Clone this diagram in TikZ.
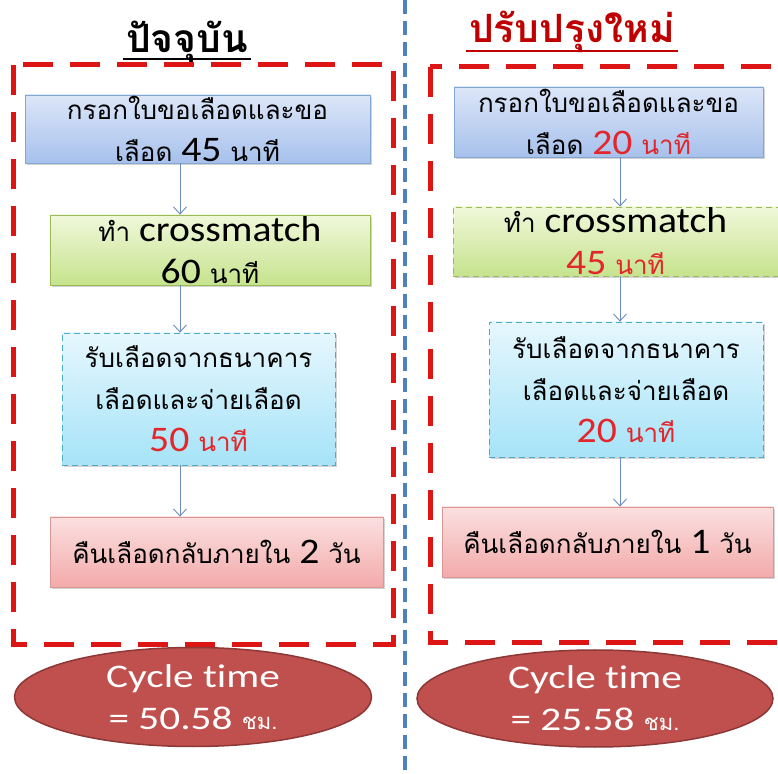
\documentclass[tikz,border=0pt]{standalone}
\usepackage{fontspec}
\setmainfont{Carlito}
\newfontfamily\thf[Script=Thai]{Loma}
\newfontfamily\latf[FakeStretch=1.1,Ligatures=NoCommon]{Carlito}
\newfontfamily\cycf[FakeStretch=1.25,Ligatures=NoCommon]{Carlito}
\usetikzlibrary{arrows.meta,shadows,shapes.geometric}
\definecolor{redd}{HTML}{DD1515}
\definecolor{blued}{HTML}{4F81BD}
\definecolor{arrowc}{HTML}{6A8CC0}
\definecolor{txtred}{HTML}{E3262B}
\definecolor{ellf}{HTML}{C0504D}
\definecolor{elld}{HTML}{8C3836}
\definecolor{ttlred}{HTML}{C00000}
\newcommand\tht[1]{{\thf\fontsize{26}{42}\selectfont #1}}
\newcommand\rd[1]{\textcolor{txtred}{#1}}
\tikzset{
  bx/.style={rectangle, align=center, inner sep=0pt, line width=0.8pt,
    font=\latf\fontsize{36}{42}\selectfont,
    drop shadow={opacity=0.35, shadow xshift=2pt, shadow yshift=-2pt}},
  bluebox/.style={bx, draw=blued!70, top color={rgb,255:red,220;green,230;blue,248}, bottom color={rgb,255:red,167;green,193;blue,236}},
  greenbox/.style={bx, draw={rgb,255:red,155;green,187;blue,89}, top color={rgb,255:red,240;green,248;blue,218}, bottom color={rgb,255:red,198;green,227;blue,141}},
  cyanbox/.style={bx, dashed, dash pattern=on 6pt off 4pt, draw={rgb,255:red,75;green,172;blue,198}, top color={rgb,255:red,230;green,247;blue,253}, bottom color={rgb,255:red,166;green,227;blue,248}},
  pinkbox/.style={bx, draw={rgb,255:red,217;green,150;blue,148}, top color={rgb,255:red,251;green,224;blue,224}, bottom color={rgb,255:red,243;green,170;blue,170}},
  arr/.style={draw=arrowc, line width=0.9pt, -{Straight Barb[length=7pt,width=13pt]}},
  redbox/.style={draw=redd, line width=5pt, dash pattern=on 30pt off 17pt},
  cyc/.style={ellipse, fill=ellf, draw=elld, line width=1.5pt, text=white, align=center,
    font=\cycf\fontsize{33}{42}\selectfont, inner sep=0pt}
}
\begin{document}
\begin{tikzpicture}[x=1pt,y=1pt]
\useasboundingbox (0,0) rectangle (778,773);
\clip (0,0) rectangle (778,773);
% titles
\node[anchor=base, font=\thf\bfseries\fontsize{39}{40}\selectfont] (t1) at (187,720) {ปัจจุบัน};
\draw[line width=1.5pt] (t1.base west) ++(0,-6) coordinate (u1) -- (u1 -| t1.base east);
\node[anchor=base, text=ttlred, font=\thf\bfseries\fontsize{39}{40}\selectfont] (t2) at (572,730) {ปรับปรุงใหม่};
\draw[line width=1.5pt, ttlred] (t2.base west) ++(0,-8) coordinate (u2) -- (u2 -| t2.base east);
% left column
\node[bluebox, minimum width=345pt, minimum height=68pt] (b1) at (197.5,644) {\tht{กรอกใบขอเลือดและขอ}\\\tht{เลือด} 45 \tht{นาที}};
\node[greenbox, minimum width=320pt, minimum height=70pt] (b2) at (210,523) {\tht{ทำ} crossmatch\\60 \tht{นาที}};
\node[cyanbox, minimum width=273pt, minimum height=132pt] (b3) at (198.5,374) {\tht{รับเลือดจากธนาคาร}\\\tht{เลือดและจ่ายเลือด}\\\rd{50 \tht{นาที}}};
\node[pinkbox, minimum width=333pt, minimum height=70pt] (b4) at (216.5,221) {\tht{คืนเลือดกลับภายใน} 2 \tht{วัน}};
\coordinate (la) at (180,0);
\draw[arr] (b1.south -| la) -- (b2.north -| la);
\draw[arr] (b2.south -| la) -- (b3.north -| la);
\draw[arr] (b3.south -| la) -- (b4.north -| la);
% right column
\node[bluebox, minimum width=309pt, minimum height=70pt] (c1) at (608.5,651) {\tht{กรอกใบขอเลือดและขอ}\\\tht{เลือด} \rd{20 \tht{นาที}}};
\node[greenbox, dashed, dash pattern=on 6pt off 4pt, minimum width=325pt, minimum height=69pt] (c2) at (615.5,531.5) {\tht{ทำ} crossmatch\\\rd{45 \tht{นาที}}};
\node[cyanbox, minimum width=274pt, minimum height=135pt] (c3) at (626,383.5) {\tht{รับเลือดจากธนาคาร}\\\tht{เลือดและจ่ายเลือด}\\\rd{20 \tht{นาที}}};
\node[pinkbox, minimum width=331pt, minimum height=70pt] (c4) at (607.5,231) {\tht{คืนเลือดกลับภายใน} 1 \tht{วัน}};
\coordinate (ra) at (620,0);
\draw[arr] (c1.south -| ra) -- (c2.north -| ra);
\draw[arr] (c2.south -| ra) -- (c3.north -| ra);
\draw[arr] (c3.south -| ra) -- (c4.north -| ra);
% frames
\draw[redbox] (13,708) rectangle (393,128);
\draw[redbox] (430,706) rectangle (800,130);
\draw[draw=blued, line width=4pt, dash pattern=on 14pt off 7pt] (405,773) -- (405,0);
% cycle time
\node[cyc, minimum width=357pt, minimum height=99pt] (e1) at (193,76) {Cycle time\\= 50.58 {\thf\fontsize{22}{42}\selectfont ชม.}};
\node[cyc, minimum width=356pt, minimum height=97pt] (e2) at (595,74.5) {Cycle time\\= 25.58 {\thf\fontsize{22}{42}\selectfont ชม.}};
\end{tikzpicture}
\end{document}
